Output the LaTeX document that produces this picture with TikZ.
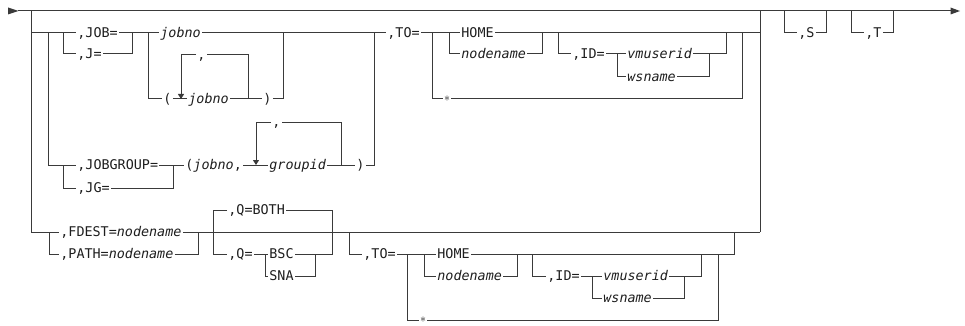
\documentclass[tikz,border=0pt]{standalone}
\usepackage{fontspec}
\setmainfont{DejaVu Sans Mono}
\usetikzlibrary{arrows.meta}
\definecolor{ln}{HTML}{3A3A3A}
\definecolor{tx}{HTML}{1E1E1E}
\tikzset{
  rr/.style={draw=ln, line width=1pt},
  lbl/.style={anchor=west, inner xsep=1.2pt, inner ysep=0pt, text height=9.8pt, text depth=0pt, text=tx, font=\fontsize{13.4}{15}\selectfont},
  itl/.style={lbl, font=\fontsize{13.4}{15}\selectfont\itshape},
  strn/.style={anchor=center, inner xsep=1.2pt, inner ysep=0pt, text=tx, font=\fontsize{12}{13}\selectfont},
  dn/.style={-{Triangle[length=5pt,width=6pt]}},
  tip/.style={fill=ln, draw=none}
}
\begin{document}
\begin{tikzpicture}[x=1pt,y=-1pt]
\useasboundingbox (0,0) rectangle (965,326);
% main line with start and end arrows
\coordinate (start) at (18,11);
\coordinate (finish) at (951,11);
\fill[tip] (8,7.5) -- (18.5,11) -- (8,14.5) -- cycle;
\draw[rr] (start) -- (finish);
\fill[tip] (950.5,7.5) -- (960,11) -- (950.5,14.5) -- cycle;
% big optional group
\draw[rr] (31,11) -- (31,232);
\draw[rr] (760,11) -- (760,232);

% ---- row b: JOB / JOBGROUP ----
\node[lbl] (job) at (76,33) {,JOB=};
\node[lbl] (j) at (76,54) {,J=};
\draw[rr] (31,33) -- (job.west);
\draw[rr] (63,33) |- (j.west);
\draw[rr] (j.east) -| (132,33);
\node[itl] (jobno) at (159,33) {jobno};
\draw[rr] (job.east) -- (jobno.west);
\node[lbl] (lp) at (162,99) {(};
\node[itl] (jobnob) at (187,99) {jobno};
\node[lbl] (rp) at (262,99) {)};
\node[lbl] (cma) at (196,55) {,};
\draw[rr] (148,33) |- (lp.west);
\draw[rr] (lp.east) -- (jobnob.west);
\draw[rr] (jobnob.east) -- (rp.west);
\draw[rr] (rp.east) -| (283,33);
\draw[rr] (248,99) |- (cma.east);
\draw[rr,dn] (cma.west) -| (181,99);

\node[lbl] (jga) at (76,165) {,JOBGROUP=};
\node[lbl] (jgb) at (76,188) {,JG=};
\draw[rr] (48,33) |- (jga.west);
\draw[rr] (63,165) |- (jgb.west);
\draw[rr] (jgb.east) -| (173,165);
\node[lbl] (pj) at (184,165) {(\textit{jobno},};
\draw[rr] (jga.east) -- (pj.west);
\node[itl] (gid) at (268,165) {groupid};
\node[lbl] (cmb) at (271,122) {,};
\draw[rr] (pj.east) -- (gid.west);
\node[lbl] (rpb) at (355,165) {)};
\draw[rr] (gid.east) -- (rpb.west);
\draw[rr] (rpb.east) -| (374,33);
\draw[rr] (341,165) |- (cmb.east);
\draw[rr,dn] (cmb.west) -| (256,165);

% TO in row b
\node[lbl] (toa) at (386,33) {,TO=};
\draw[rr] (jobno.east) -- (toa.west);
\node[lbl] (homea) at (460,33) {HOME};
\node[itl] (nna) at (460,54) {nodename};
\draw[rr] (toa.east) -- (homea.west);
\draw[rr] (449,33) |- (nna.west);
\draw[rr] (nna.east) -| (542,33);
\node[lbl] (ida) at (571,54) {,ID=};
\draw[rr] (558,33) |- (ida.west);
\node[itl] (vma) at (626,54) {vmuserid};
\node[itl] (wsa) at (626,77) {wsname};
\draw[rr] (ida.east) -- (vma.west);
\draw[rr] (617,54) |- (wsa.west);
\draw[rr] (vma.east) -| (726,33);
\draw[rr] (wsa.east) -| (709,54);
\node[strn] (sta) at (447,99) {$\ast$};
\draw[rr] (432,33) |- (sta.west);
\draw[rr] (sta.east) -| (742,33);
\draw[rr] (homea.east) -- (760,33);

% ---- row c: FDEST / PATH ----
\node[lbl] (fd) at (59,232) {,FDEST=\textit{nodename}};
\node[lbl] (pa) at (59,254) {,PATH=\textit{nodename}};
\draw[rr] (31,232) -- (fd.west);
\draw[rr] (49,232) |- (pa.west);
\draw[rr] (pa.east) -| (198,232);
\node[lbl] (qb) at (227,210) {,Q=BOTH};
\node[lbl] (q) at (227,254) {,Q=};
\node[lbl] (bsc) at (268,254) {BSC};
\node[lbl] (sna) at (268,276) {SNA};
\draw[rr] (qb.west) -| (213,254) -- (q.west);
\draw[rr] (qb.east) -| (332,254) -- (bsc.east);
\draw[rr] (q.east) -- (bsc.west);
\draw[rr] (265,254) |- (sna.west);
\draw[rr] (sna.east) -| (315,254);
\draw[rr] (fd.east) -- (760,232);

\node[lbl] (tob) at (362,254) {,TO=};
\draw[rr] (349,232) |- (tob.west);
\node[lbl] (homeb) at (436,254) {HOME};
\node[itl] (nnb) at (436,276) {nodename};
\draw[rr] (tob.east) -- (homeb.west);
\draw[rr] (424,254) |- (nnb.west);
\draw[rr] (nnb.east) -| (517,254);
\node[lbl] (idb) at (546,276) {,ID=};
\draw[rr] (532,254) |- (idb.west);
\node[itl] (vmb) at (602,276) {vmuserid};
\node[itl] (wsb) at (602,298) {wsname};
\draw[rr] (idb.east) -- (vmb.west);
\draw[rr] (592,276) |- (wsb.west);
\draw[rr] (vmb.east) -| (701,254);
\draw[rr] (wsb.east) -| (684,276);
\node[strn] (stb) at (423,320) {$\ast$};
\draw[rr] (407,254) |- (stb.west);
\draw[rr] (stb.east) -| (718,254);
\draw[rr] (homeb.east) -| (734,232);

% ---- ,S and ,T ----
\node[lbl] (s) at (797,33) {,S};
\draw[rr] (784,11) |- (s.west);
\draw[rr] (s.east) -| (826,11);
\node[lbl] (t) at (864,33) {,T};
\draw[rr] (851,11) |- (t.west);
\draw[rr] (t.east) -| (893,11);
\end{tikzpicture}
\end{document}
